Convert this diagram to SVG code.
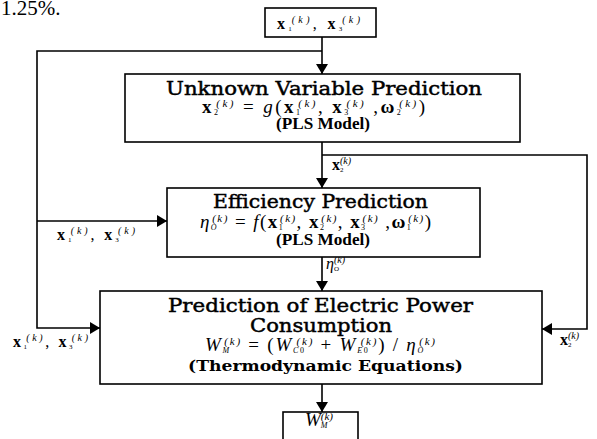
<svg xmlns="http://www.w3.org/2000/svg" width="597" height="439" viewBox="0 0 597 439">
<style>
.box{fill:#fff;stroke:#000;stroke-width:1.6}
.ln{fill:none;stroke:#000;stroke-width:1.6}
.ttl{font-family:"DejaVu Serif",serif;font-weight:normal;font-size:18px;stroke:#000;stroke-width:0.45}
.pl{font-family:"Liberation Serif",serif;font-weight:bold;font-size:16px}
.th{font-family:"DejaVu Serif",serif;font-weight:bold;font-size:14px}
.m{font-family:"Liberation Serif",serif;font-size:19px}
.lb{font-family:"Liberation Serif",serif;font-size:16px}
.b{font-weight:bold}
.i{font-style:italic}
.sp{font-size:11px;font-style:italic;font-weight:normal}
.sb{font-size:8px;font-style:normal;font-weight:normal}
.sbi{font-size:8px;font-style:italic;font-weight:normal}
.lsp{font-size:10px;font-style:italic;font-weight:normal}
.lsb{font-size:7px;font-style:normal;font-weight:normal}
.pg{font-family:"Liberation Serif",serif;font-size:21px}
</style>
<defs>
<marker id="ah" markerWidth="10" markerHeight="12" refX="10" refY="6" orient="auto" markerUnits="userSpaceOnUse"><path d="M0,0 L10,6 L0,12 z" fill="#000"/></marker>
</defs>
<text class="pg" x="1" y="15">1.25%.</text>
<g id="connectors">
<path class="ln" d="M322,37 V74" marker-end="url(#ah)"/>
<path class="ln" d="M322,51 H37 V328 H100" marker-end="url(#ah)"/>
<path class="ln" d="M37,221 H167" marker-end="url(#ah)"/>
<path class="ln" d="M322,142 V188" marker-end="url(#ah)"/>
<path class="ln" d="M322,155 H587 V329 H542" marker-end="url(#ah)"/>
<path class="ln" d="M322,257 V291" marker-end="url(#ah)"/>
<path class="ln" d="M322,384 V412" marker-end="url(#ah)"/>
<text class="lb" x="332" y="170"><tspan class="b">x</tspan><tspan class="lsb" dy="2">2</tspan><tspan class="lsp" dx="-3.5" dy="-8">(k)</tspan></text>
<text class="lb" x="326" y="269"><tspan class="i">η</tspan><tspan class="lsb i" dy="2">O</tspan><tspan class="lsp" dx="-5" dy="-8">(k)</tspan></text>
<text class="lb" x="560" y="345"><tspan class="b">x</tspan><tspan class="lsb" dy="2">2</tspan><tspan class="lsp" dx="-3.5" dy="-8">(k)</tspan></text>
<text class="lb" x="57" y="240" textLength="78" lengthAdjust="spacing"><tspan class="b">x</tspan><tspan class="lsb" dy="2">1</tspan><tspan class="lsp" dx="-3.5" dy="-8">(k)</tspan><tspan dy="6">, </tspan><tspan class="b">x</tspan><tspan class="lsb" dy="2">3</tspan><tspan class="lsp" dx="-3.5" dy="-8">(k)</tspan></text>
<text class="lb" x="13" y="347" textLength="75" lengthAdjust="spacing"><tspan class="b">x</tspan><tspan class="lsb" dy="2">1</tspan><tspan class="lsp" dx="-3.5" dy="-8">(k)</tspan><tspan dy="6">, </tspan><tspan class="b">x</tspan><tspan class="lsb" dy="2">3</tspan><tspan class="lsp" dx="-3.5" dy="-8">(k)</tspan></text>
</g>
<g id="input">
<rect class="box" x="265" y="8" width="111" height="29"/>
<text class="lb" x="277" y="29" textLength="83" lengthAdjust="spacing"><tspan class="b">x</tspan><tspan class="lsb" dy="2">1</tspan><tspan class="lsp" dx="-3.5" dy="-8">(k)</tspan><tspan dy="6">, </tspan><tspan class="b">x</tspan><tspan class="lsb" dy="2">3</tspan><tspan class="lsp" dx="-3.5" dy="-8">(k)</tspan></text>
</g>
<g id="unknown-variable">
<rect class="box" x="125" y="74" width="395" height="68"/>
<text class="ttl" x="166" y="95" textLength="316" lengthAdjust="spacingAndGlyphs">Unknown Variable Prediction</text>
<text class="m" x="202" y="113" textLength="223" lengthAdjust="spacing"><tspan class="b">x</tspan><tspan class="sb" dy="2">2</tspan><tspan class="sp" dx="-4" dy="-8">(k)</tspan><tspan dy="6"> = </tspan><tspan class="i">g</tspan><tspan>(</tspan><tspan class="b">x</tspan><tspan class="sb" dy="2">1</tspan><tspan class="sp" dx="-4" dy="-8">(k)</tspan><tspan dy="6">, </tspan><tspan class="b">x</tspan><tspan class="sb" dy="2">3</tspan><tspan class="sp" dx="-4" dy="-8">(k)</tspan><tspan dy="6"> ,</tspan><tspan class="b">ω</tspan><tspan class="sb" dy="2">2</tspan><tspan class="sp" dx="-4" dy="-8">(k)</tspan><tspan dy="6">)</tspan></text>
<text class="pl" x="276" y="129" textLength="94" lengthAdjust="spacingAndGlyphs">(PLS Model)</text>
</g>
<g id="efficiency">
<rect class="box" x="167" y="188" width="313" height="69"/>
<text class="ttl" x="213" y="208" textLength="215" lengthAdjust="spacingAndGlyphs">Efficiency Prediction</text>
<text class="m" x="200" y="228" textLength="231" lengthAdjust="spacing"><tspan class="i">η</tspan><tspan class="sbi" dy="2">O</tspan><tspan class="sp" dx="-5.8" dy="-8">(k)</tspan><tspan dy="6"> = </tspan><tspan class="i">f</tspan><tspan>(</tspan><tspan class="b">x</tspan><tspan class="sb" dy="2">1</tspan><tspan class="sp" dx="-4" dy="-8">(k)</tspan><tspan dy="6">, </tspan><tspan class="b">x</tspan><tspan class="sb" dy="2">2</tspan><tspan class="sp" dx="-4" dy="-8">(k)</tspan><tspan dy="6">, </tspan><tspan class="b">x</tspan><tspan class="sb" dy="2">3</tspan><tspan class="sp" dx="-4" dy="-8">(k)</tspan><tspan dy="6"> ,</tspan><tspan class="b">ω</tspan><tspan class="sb" dy="2">1</tspan><tspan class="sp" dx="-4" dy="-8">(k)</tspan><tspan dy="6">)</tspan></text>
<text class="pl" x="276" y="245" textLength="94" lengthAdjust="spacingAndGlyphs">(PLS Model)</text>
</g>
<g id="power">
<rect class="box" x="100" y="291" width="442" height="93"/>
<text class="ttl" x="168" y="312" textLength="305" lengthAdjust="spacingAndGlyphs">Prediction of Electric Power</text>
<text class="ttl" x="250" y="332" textLength="142" lengthAdjust="spacingAndGlyphs">Consumption</text>
<text class="m" x="205" y="351" textLength="230" lengthAdjust="spacing"><tspan class="i">W</tspan><tspan class="sbi" dy="2">M</tspan><tspan class="sp" dx="-6.7" dy="-8">(k)</tspan><tspan dy="6"> = (</tspan><tspan class="i">W</tspan><tspan class="sbi" dy="2">C</tspan><tspan class="sb">0</tspan><tspan class="sp" dx="-9.3" dy="-8">(k)</tspan><tspan dy="6"> + </tspan><tspan class="i">W</tspan><tspan class="sbi" dy="2">E</tspan><tspan class="sb">0</tspan><tspan class="sp" dx="-8.9" dy="-8">(k)</tspan><tspan dy="6">) / </tspan><tspan class="i">η</tspan><tspan class="sbi" dy="2">O</tspan><tspan class="sp" dx="-5.8" dy="-8">(k)</tspan></text>
<text class="th" x="188" y="371" textLength="275" lengthAdjust="spacingAndGlyphs">(Thermodynamic Equations)</text>
</g>
<g id="output">
<rect class="box" x="283" y="412" width="75" height="40"/>
<text class="m" x="305" y="426"><tspan class="i">W</tspan><tspan class="sbi" dy="2">M</tspan><tspan class="sp" dx="-6.7" dy="-8">(k)</tspan></text>
</g>
</svg>
